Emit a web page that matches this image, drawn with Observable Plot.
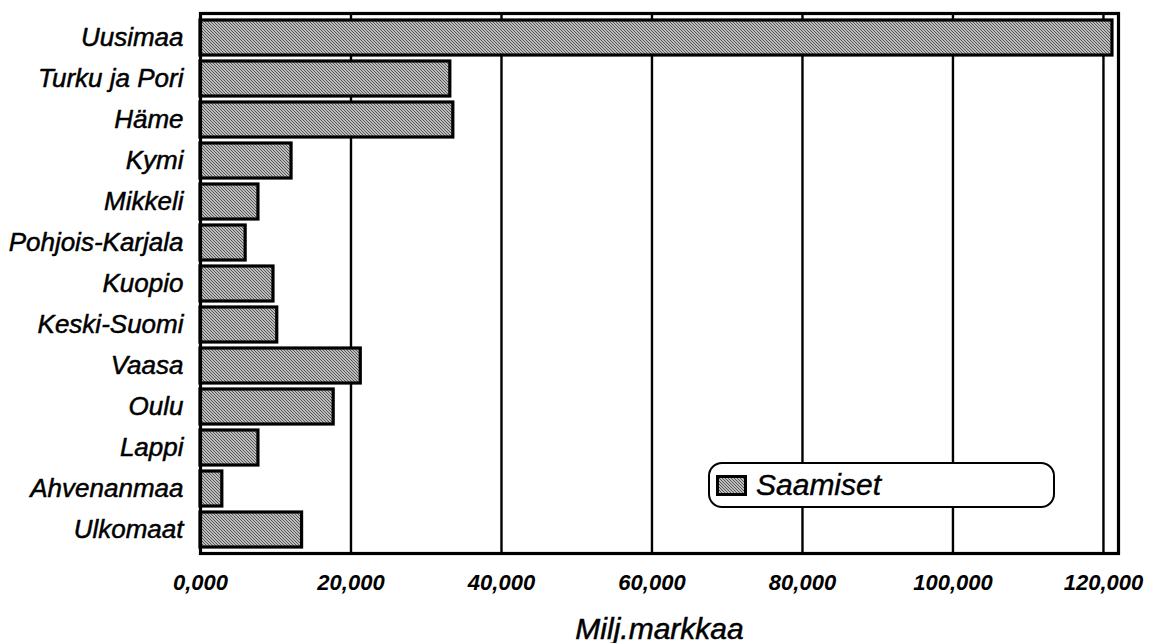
<!DOCTYPE html>
<html>
<head>
<meta charset="utf-8">
<script src="https://cdn.jsdelivr.net/npm/d3@7"></script>
<script src="https://cdn.jsdelivr.net/npm/@observablehq/plot@0.6"></script>
<style>
  html, body { margin: 0; padding: 0; background: #fff; }
  #wrap { position: relative; width: 1149px; height: 643px; overflow: hidden; font-family: "Liberation Sans", Arial, sans-serif; }
  #legend {
    position: absolute; left: 708px; top: 462px; width: 343px; height: 42px;
    border: 2.5px solid #000; border-radius: 14px; background: #fff;
    display: flex; align-items: center; box-sizing: content-box;
  }
  #legend svg { margin-left: 6px; }
  #legend span { font-style: italic; font-size: 30px; margin-left: 9px; color: #000; -webkit-text-stroke: 0.4px #000; }
</style>
</head>
<body>
<div id="wrap"></div>
<script>
const regions = ["Uusimaa", "Turku ja Pori", "Häme", "Kymi", "Mikkeli", "Pohjois-Karjala", "Kuopio", "Keski-Suomi", "Vaasa", "Oulu", "Lappi", "Ahvenanmaa", "Ulkomaat"];
const saamiset = [121200, 33200, 33600, 12100, 7700, 6000, 9700, 10200, 21300, 17700, 7700, 2900, 13500];
const seriesName = "Saamiset";
const xTicks = [0, 20000, 40000, 60000, 80000, 100000, 120000];
const xTickLabels = ["0,000", "20,000", "40,000", "60,000", "80,000", "100,000", "120,000"];
const xTitle = "Milj.markkaa";

const data = regions.map((r, i) => ({region: r, value: saamiset[i]}));

const chart = Plot.plot({
  width: 1149,
  height: 643,
  marginLeft: 200,
  marginTop: 13,
  marginRight: 31,
  marginBottom: 90,
  style: {fontFamily: "'Liberation Sans', Arial, sans-serif", background: "#fff", color: "#000"},
  x: {domain: [0, 122000]},
  y: {domain: regions, padding: 0.15},
  marks: [
    Plot.ruleX(xTicks.slice(1), {stroke: "#000", strokeWidth: 2.4}),
    Plot.barX(data, {x: "value", y: "region", fill: "url(#hatch)", stroke: "#000", strokeWidth: 3.2}),
    Plot.frame({stroke: "#000", strokeWidth: 3.2}),
    Plot.axisY({tickSize: 0, tickPadding: 17, fontSize: 26, fontStyle: "italic", label: null, textStroke: "#000", textStrokeWidth: 0.5}),
    Plot.axisX({ticks: xTicks, tickFormat: d => xTickLabels[xTicks.indexOf(d)], tickSize: 0, tickPadding: 21, fontSize: 22, fontStyle: "italic", fontWeight: "bold", label: null}),
    Plot.text([xTitle], {frameAnchor: "bottom", dy: 85, lineAnchor: "bottom", fontSize: 30, fontStyle: "italic", fill: "#000", stroke: "#000", strokeWidth: 0.5})
  ]
});

// hatch pattern definition used as bar fill
const ns = "http://www.w3.org/2000/svg";
const defs = document.createElementNS(ns, "defs");
defs.innerHTML = `<pattern id="hatch" patternUnits="userSpaceOnUse" width="3" height="3">
  <rect width="3" height="3" fill="#bdbdbd"/>
  <path d="M-1,-1 L4,4 M-1,2 L1,4 M2,-1 L4,1" stroke="#4a4a4a" stroke-width="0.9"/>
</pattern>`;
chart.insertBefore(defs, chart.firstChild);

const wrap = document.getElementById("wrap");
wrap.appendChild(chart);

const legend = document.createElement("div");
legend.id = "legend";
legend.innerHTML = `<svg width="31" height="21"><rect x="1.5" y="1.5" width="28" height="18" fill="url(#hatch)" stroke="#000" stroke-width="3"/></svg><span>${seriesName}</span>`;
wrap.appendChild(legend);
</script>
</body>
</html>
